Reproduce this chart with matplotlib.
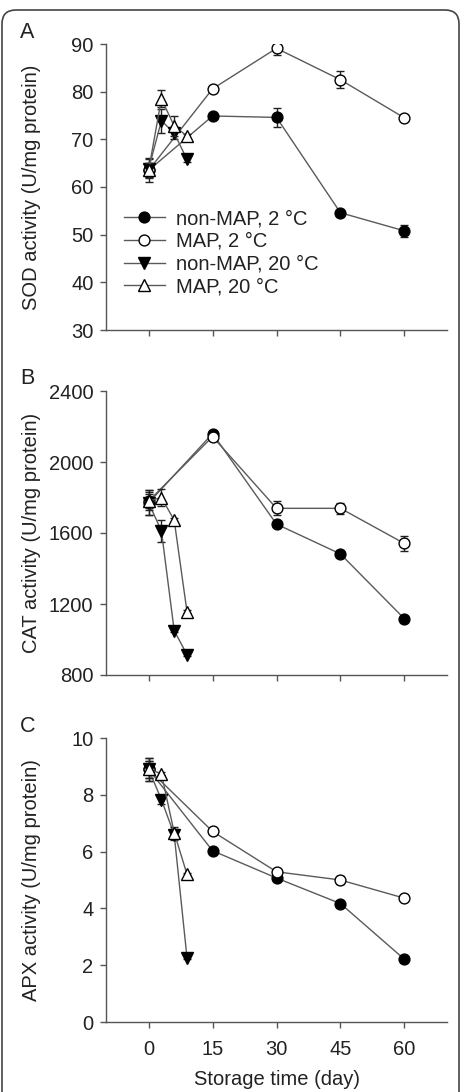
import numpy as np
import matplotlib.pyplot as plt
from matplotlib.patches import FancyBboxPatch

plt.rcParams['font.family'] = ['Liberation Sans', 'DejaVu Sans']

days_2 = [0, 15, 30, 45, 60]
days_20 = [0, 3, 6, 9]

labels = ['non-MAP, 2 °C', 'MAP, 2 °C', 'non-MAP, 20 °C', 'MAP, 20 °C']

# SOD
sod_nonmap_2 = [63.5, 74.9, 74.6, 54.6, 50.8]
sod_map_2 = [63.5, 80.6, 89.1, 82.5, 74.5]
sod_nonmap_20 = [63.8, 73.9, 71.3, 65.8]
sod_map_20 = [63.5, 78.5, 72.8, 70.7]
sod_err_nonmap_2 = [2.5, 0.5, 2.0, 0.5, 1.2]
sod_err_map_2 = [1.5, 0.5, 1.5, 1.8, 0.5]
sod_err_nonmap_20 = [2.0, 2.5, 1.2, 0.5]
sod_err_map_20 = [1.5, 1.8, 2.0, 0.5]

# CAT
cat_nonmap_2 = [1770, 2160, 1650, 1482, 1117]
cat_map_2 = [1780, 2143, 1739, 1739, 1541]
cat_nonmap_20 = [1770, 1612, 1050, 915]
cat_map_20 = [1780, 1800, 1672, 1157]
cat_err_nonmap_2 = [70, 10, 10, 10, 10]
cat_err_map_2 = [40, 10, 40, 30, 40]
cat_err_nonmap_20 = [70, 60, 10, 10]
cat_err_map_20 = [50, 50, 10, 10]

# APX
apx_nonmap_2 = [8.9, 6.03, 5.07, 4.17, 2.21]
apx_map_2 = [8.9, 6.71, 5.29, 5.0, 4.36]
apx_nonmap_20 = [8.9, 7.83, 6.6, 2.27]
apx_map_20 = [8.9, 8.74, 6.67, 5.2]
apx_err_nonmap_2 = [0.4, 0.05, 0.05, 0.05, 0.05]
apx_err_map_2 = [0.3, 0.05, 0.05, 0.15, 0.05]
apx_err_nonmap_20 = [0.4, 0.15, 0.2, 0.05]
apx_err_map_20 = [0.3, 0.05, 0.2, 0.05]

W, H = 463, 1092
fig = plt.figure(figsize=(W / 100, H / 100), dpi=100)

line_col = '#5a5a5a'
spine_col = '#555555'
text_col = '#222222'


def px_axes(left, top, right, bottom):
    return fig.add_axes([left / W, 1 - bottom / H, (right - left) / W, (bottom - top) / H])


panels = [
    (44, 330, 'A', 'SOD activity (U/mg protein)', (30, 90), [30, 40, 50, 60, 70, 80, 90],
     [sod_nonmap_2, sod_map_2, sod_nonmap_20, sod_map_20],
     [sod_err_nonmap_2, sod_err_map_2, sod_err_nonmap_20, sod_err_map_20]),
    (391, 675, 'B', 'CAT activity (U/mg protein)', (800, 2400), [800, 1200, 1600, 2000, 2400],
     [cat_nonmap_2, cat_map_2, cat_nonmap_20, cat_map_20],
     [cat_err_nonmap_2, cat_err_map_2, cat_err_nonmap_20, cat_err_map_20]),
    (738, 1022, 'C', 'APX activity (U/mg protein)', (0, 10), [0, 2, 4, 6, 8, 10],
     [apx_nonmap_2, apx_map_2, apx_nonmap_20, apx_map_20],
     [apx_err_nonmap_2, apx_err_map_2, apx_err_nonmap_20, apx_err_map_20]),
]

styles = [
    dict(marker='o', mfc='black', ms=7.8),
    dict(marker='o', mfc='white', ms=7.8),
    dict(marker='v', mfc='black', ms=8.5),
    dict(marker='^', mfc='white', ms=8.5),
]

for k, (top, bottom, letter, ylabel, ylim, yticks, series, errs) in enumerate(panels):
    ax = px_axes(106, top, 447, bottom)
    for i, (vals, err) in enumerate(zip(series, errs)):
        xs = days_2 if i < 2 else days_20
        ax.errorbar(xs, vals, yerr=err, fmt='none', ecolor='#222222',
                    elinewidth=1.0, capsize=3, capthick=1.0, zorder=2 + i)
        ax.plot(xs, vals, color=line_col, lw=1.0, mec='black', mew=1.0,
                label=labels[i], zorder=3 + i, **styles[i])
    ax.set_xlim(-10, 70)
    ax.set_ylim(*ylim)
    ax.set_yticks(yticks)
    ax.set_xticks([0, 15, 30, 45, 60])
    for s in ['top', 'right']:
        ax.spines[s].set_visible(False)
    for s in ['left', 'bottom']:
        ax.spines[s].set_color(spine_col)
        ax.spines[s].set_linewidth(1.0)
    ax.tick_params(colors=spine_col, labelcolor=text_col, labelsize=14.5, length=4, width=1)
    ax.tick_params(axis='y', pad=5)
    ax.tick_params(axis='x', pad=9)
    if k < 2:
        ax.tick_params(axis='x', labelbottom=False)
    ax.set_ylabel(ylabel, fontsize=14.5, color=text_col)
    ax.yaxis.set_label_coords(-0.19, 0.5)
    fig.text(20 / W, 1 - (top - 12) / H, letter, fontsize=15.5, color=text_col,
             ha='left', va='center')
    if k == 0:
        ax.legend(loc='lower left', bbox_to_anchor=(0.03, 0.09), frameon=False,
                  fontsize=14.5, handlelength=2.0, handletextpad=0.55,
                  labelspacing=0.18, borderaxespad=0, labelcolor=text_col)

fig.text(277 / W, 3 / H, 'Storage time (day)', fontsize=14.5, color=text_col,
         ha='center', va='bottom')

border = FancyBboxPatch((2 / W, -0.05), 457 / W, 1 - 10 / H + 0.05,
                        boxstyle='round,pad=0,rounding_size=0.03',
                        transform=fig.transFigure, fill=False,
                        edgecolor='#444444', lw=1.2, mutation_aspect=W / H)
fig.patches.append(border)

fig.savefig('out.png', dpi=100)
